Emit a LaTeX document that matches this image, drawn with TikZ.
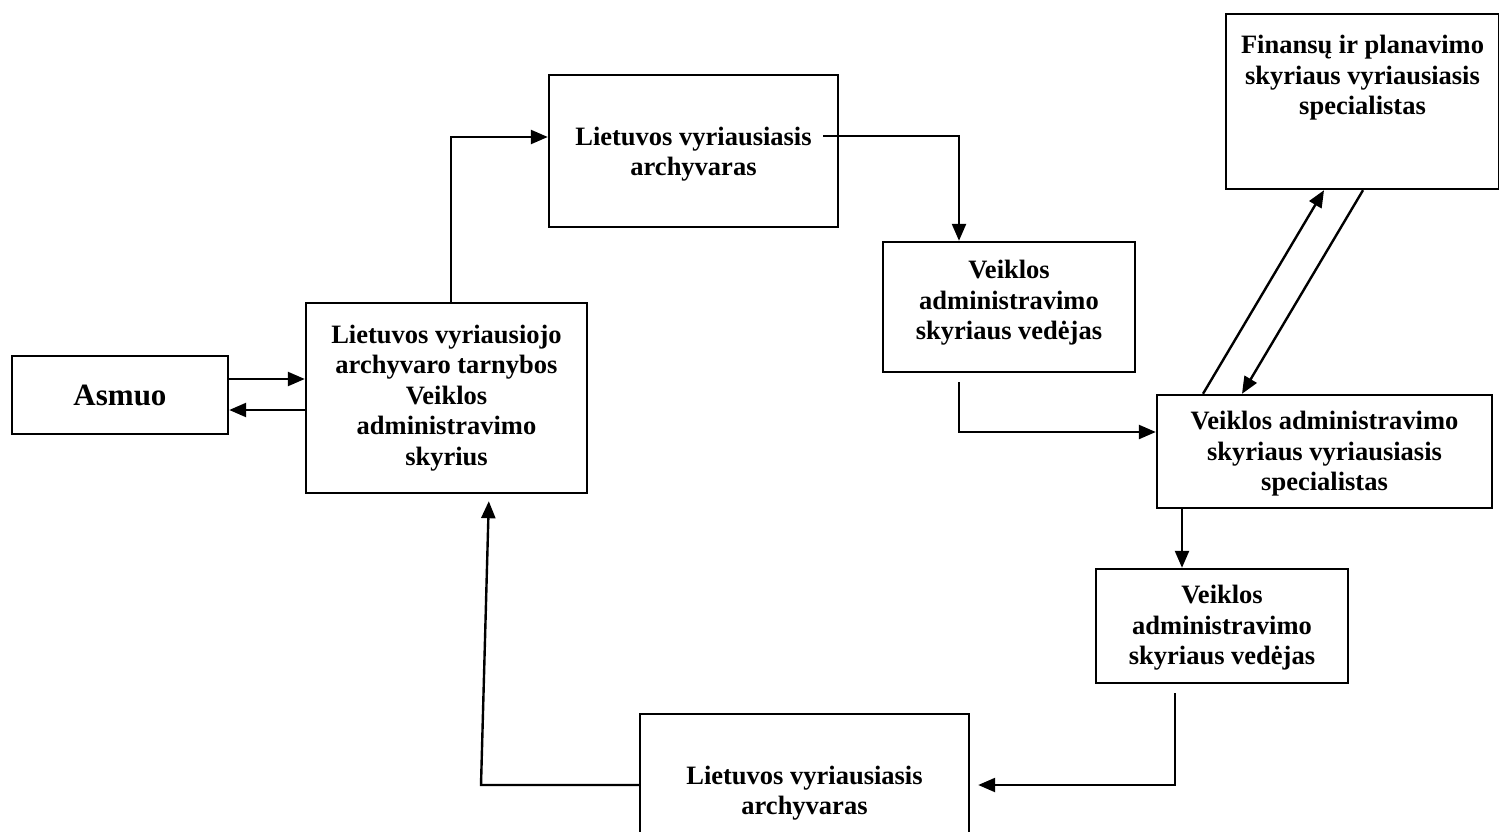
\documentclass[tikz,border=0pt]{standalone}
\usepackage{fontspec}
\setmainfont{Liberation Serif}
\usetikzlibrary{arrows.meta}
\begin{document}
\begin{tikzpicture}[x=1pt,y=-1pt,
  box/.style={draw, line width=2.4pt, align=center, inner sep=0pt,
    font=\bfseries\fontsize{26.5}{30.5}\selectfont},
  txt/.style={align=center, inner sep=0pt,
    font=\bfseries\fontsize{26.5}{30.5}\selectfont},
  arr/.style={line width=2.4pt, -{Triangle[length=17pt,width=14pt]}}]
\useasboundingbox (0,0) rectangle (1499,832);

% boxes
\node[box, minimum width=216pt, minimum height=78pt,
      font=\bfseries\fontsize{31}{36}\selectfont] (asm) at (120,395) {Asmuo};
\node[box, minimum width=281pt, minimum height=190pt] (main) at (446.5,398)
  {Lietuvos vyriausiojo\\archyvaro tarnybos\\Veiklos\\administravimo\\skyrius};
\node[box, minimum width=289pt, minimum height=152pt] (top1) at (693.5,151) {};
\node[txt] (top1t) at (693.5,154) {Lietuvos vyriausiasis\\archyvaras};
\node[box, minimum width=252pt, minimum height=130pt] (box2) at (1009,307) {};
\node[txt] (box2t) at (1009,303) {Veiklos\\administravimo\\skyriaus vedėjas};
\node[box, minimum width=335pt, minimum height=113pt] (box3) at (1324.5,451.5) {};
\node[txt] (box3t) at (1324.5,454) {Veiklos administravimo\\skyriaus vyriausiasis\\specialistas};
\node[box, minimum width=252pt, minimum height=114pt] (box4) at (1222,626) {};
\node[txt] (box4t) at (1222,628) {Veiklos\\administravimo\\skyriaus vedėjas};
\node[box, minimum width=273pt, minimum height=175pt] (fin) at (1362.5,101.5) {};
\node[txt] (fint) at (1362.5,78) {Finansų ir planavimo\\skyriaus vyriausiasis\\specialistas};
\node[box, minimum width=329pt, minimum height=136pt] (box5) at (804.5,782) {};
\node[txt] (box5t) at (804.5,793) {Lietuvos vyriausiasis\\archyvaras};

% free ends
\coordinate (t1out) at (823,136);
\coordinate (b2out) at (959,382);
\coordinate (b4out) at (1175,693);
\coordinate (b5turn) at (481,785);

% connectors
\draw[arr] (asm.east |- 0,379) -- (main.west |- 0,379);
\draw[arr] (main.west |- 0,410) -- (asm.east |- 0,410);
\draw[arr] (main.north -| 451,0) |- (top1.west |- 0,137);
\draw[arr] (t1out) -| (box2.north -| 959,0);
\draw[arr] (b2out) |- (box3.west |- 0,432);
\draw[arr] (box3.north -| 1203,0) -- (fin.south -| 1324,0);
\draw[arr] (fin.south -| 1363,0) -- (box3.north -| 1242,0);
\draw[arr] (box3.south -| 1182,0) -- (box4.north -| 1182,0);
\draw[arr, shorten >=8pt] (b4out) |- (box5.east |- 0,785);
\draw[arr, shorten >=7pt] (box5.west |- 0,785) -- (b5turn) -- (main.south -| 489,0);
\end{tikzpicture}
\end{document}
